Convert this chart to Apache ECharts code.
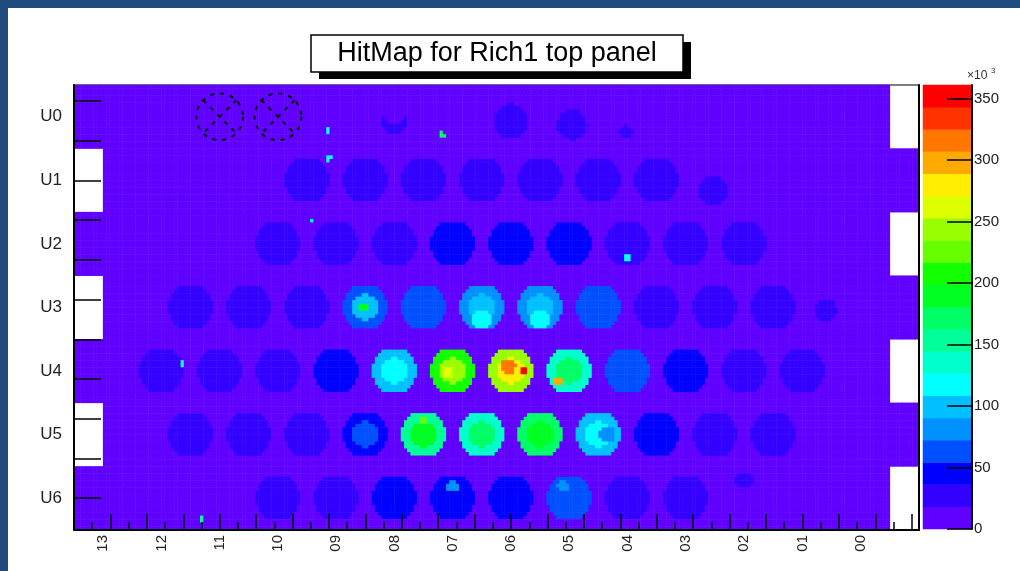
<!DOCTYPE html>
<html>
<head>
<meta charset="utf-8">
<script src="https://cdn.jsdelivr.net/npm/echarts@6/dist/echarts.min.js"></script>
<style>
  html, body { margin: 0; padding: 0; background: #ffffff; }
  #chart { width: 1020px; height: 571px; }
</style>
</head>
<body>
<div id="chart"></div>
<script>
// Row (column-of-tubes) names, top to bottom, and tube labels, left to right
const rowNames = ['U0', 'U1', 'U2', 'U3', 'U4', 'U5', 'U6'];
const colLabels = ['13', '12', '11', '10', '09', '08', '07', '06', '05', '04', '03', '02', '01', '00'];

// Mean hits per tube in units of 10^3: [rim, core]; 0 = tube without signal
const U0 = [0, 0, 0, 0, 0, 0, 0, 0, 0, 0, 0, 0, 0, 0];
const U1 = [0, 0, 0, [24, 24], [25, 25], [25, 25], [26, 26], [25, 25], [25, 25], [24, 24], 0, 0, 0, 0];
const U2 = [0, 0, 0, [24, 24], [25, 25], [30, 28], [42, 44], [40, 42], [38, 37], [30, 28], [24, 24], [24, 24], 0, 0];
const U3 = [0, [24, 24], [25, 25], [30, 28], [68, 100], [60, 66], [85, 100], [90, 100], [56, 60], [28, 26], [24, 24], [24, 24], 0, 0];
const U4 = [0, [24, 24], [25, 25], [28, 26], [44, 40], [100, 115], [205, 250], [250, 285], [140, 175], [66, 62], [44, 42], [32, 30], [24, 24], 0];
const U5 = [0, [24, 24], [25, 25], [30, 28], [50, 56], [160, 195], [140, 170], [170, 195], [105, 115], [44, 42], [24, 24], [24, 24], 0, 0];
const U6 = [0, 0, 0, [24, 24], [30, 30], [40, 42], [46, 44], [42, 40], [58, 55], [30, 28], [25, 25], 0, 0, 0];

// Local features: [row, tube, dx, dy, radius, hits] (offsets in tube pitches)
const spots = [
  [0, 5, 0.00, 0.10, 0.22, 24], [0, 5, 0.00, 0.00, 0.15, 6],
  [0, 7, 0.00, 0.08, 0.30, 25], [0, 8, 0.05, 0.14, 0.26, 25], [0, 9, -0.03, 0.27, 0.12, 24],
  [1, 10, -0.03, 0.18, 0.25, 24],
  [3, 12, -0.10, 0.05, 0.20, 23],
  [6, 11, 0.00, -0.30, 0.15, 23],
  [3, 4, -0.03, 0.00, 0.09, 185],
  [3, 6, 0.00, 0.22, 0.16, 120], [3, 7, 0.00, 0.22, 0.16, 120],
  [4, 6, -0.08, 0.05, 0.10, 270],
  [4, 7, -0.04, -0.08, 0.13, 315], [4, 7, 0.22, -0.02, 0.06, 350],
  [4, 8, -0.20, 0.18, 0.08, 290],
  [5, 5, 0.00, -0.25, 0.07, 230],
  [5, 8, 0.15, 0.00, 0.15, 80],
  [6, 6, 0.00, -0.20, 0.10, 85], [6, 8, -0.10, -0.20, 0.10, 90]
];
// Isolated hot pixels: [row, tube, dx, dy, hits]
const hotPixels = [
  [0, 6, -0.17, 0.31, 165], [0, 4, -0.15, 0.24, 120], [1, 3, 0.38, -0.37, 120],
  [2, 4, -0.41, -0.38, 110], [2, 9, 0.00, 0.24, 110], [4, 1, 0.36, -0.12, 110],
  [6, 2, -0.29, 0.36, 150]
];
// Tubes flagged as dead
const deadTubes = [[0, 2], [0, 3]];

// Colour scale (10^3 hits)
const zMax = 361;
const zTicks = [0, 50, 100, 150, 200, 250, 300, 350];
const palette = ['#6000ff', '#3300ff', '#0000ff', '#0050ff', '#0090ff', '#00c0ff', '#00ffff', '#00ffcc',
  '#00ff99', '#00ff66', '#00ff22', '#11ff00', '#66ff00', '#99ff00', '#ddff00', '#ffee00',
  '#ffaa00', '#ff7700', '#ff3300', '#ff0000'];

// Pixel-axis ticks (32 pixels per tube, rows start at 4)
const xTickStep = 20;
const yTickValues = [20, 40, 60, 80, 100, 120, 140, 160, 180, 200, 220];

// ---- geometry of the panel ----
const rows = [U0, U1, U2, U3, U4, U5, U6];
const NB = 18;                 // histogram bins per tube pitch
const NX = 14 * NB + NB / 2;   // staggered rows
const NY = rows.length * NB;
const ROW_PITCH = 1.09;        // row spacing in tube pitches
const R_TUBE = 0.39, R_CORE = 0.22;
const BG = 6;
const PIX = 32, Y0 = 4;        // pixel-axis units per tube / offset

const step = zMax / palette.length;
const pieces = palette.map((c, k) => ({ gte: k * step, lt: (k + 1) * step, color: c }));
pieces[pieces.length - 1].lte = zMax + 1;

const cells = [];
for (let iy = 0; iy < NY; iy++) {
  const r = Math.floor(iy / NB);
  const dy = (((iy % NB) + 0.5) / NB - 0.5) * ROW_PITCH;
  const shift = r % 2 ? 0.5 : 0;
  for (let ix = 0; ix < NX; ix++) {
    const xp = (ix + 0.5) / NB;
    if (xp < shift || xp > shift + 14) continue;
    const t = Math.min(13, Math.floor(xp - shift));
    const dx = xp - shift - (t + 0.5);
    let v = BG;
    const tube = rows[r][t];
    const d = Math.hypot(dx, dy);
    if (tube && d < R_TUBE) v = d < R_CORE ? tube[1] : tube[0];
    for (const s of spots) {
      if (s[0] !== r) continue;
      const cx = shift + s[1] + 0.5 + s[2];
      if (Math.hypot(xp - cx, dy - s[3]) < s[4]) v = s[5];
    }
    for (const h of hotPixels) {
      if (h[0] !== r) continue;
      const cx = shift + h[1] + 0.5 + h[2];
      if (Math.hypot(xp - cx, dy - h[3]) < 0.045) v = h[4];
    }
    cells.push([ix, NY - 1 - iy, v]);
  }
}

const xCats = Array.from({ length: NX }, (_, i) => i);
const yCats = Array.from({ length: NY }, (_, i) => i);
const xLabelValues = colLabels.map((_, i) => PIX / 2 + PIX * i);
const yLabelValues = rowNames.map((_, r) => Y0 + PIX * (rows.length - r) - PIX / 2);
const paletteData = palette.map((_, k) => [0, k, (k + 0.5) * step]);
const deadData = deadTubes.map(([r, t]) => [PIX * ((r % 2 ? 0.5 : 0) + t + 0.5), Y0 + PIX * (rows.length - r) - PIX / 2]);

const FONT = 'Liberation Sans, Arial, Helvetica, sans-serif';
const ink = '#000';

const chart = echarts.init(document.getElementById('chart'), null, { renderer: 'canvas' });
chart.setOption({
  animation: false,
  backgroundColor: '#ffffff',
  textStyle: { fontFamily: FONT },
  graphic: [
    { type: 'rect', shape: { x: 0, y: 0, width: 1020, height: 8 }, style: { fill: '#1f4a7c' } },
    { type: 'rect', shape: { x: 0, y: 0, width: 8, height: 571 }, style: { fill: '#1f4a7c' } },
    { type: 'rect', shape: { x: 319, y: 42, width: 372, height: 37 }, style: { fill: '#000' }, z: 20 },
    { type: 'rect', shape: { x: 311, y: 35, width: 372, height: 37 }, style: { fill: '#fff', stroke: '#000', lineWidth: 1.5 }, z: 21 },
    { type: 'text', x: 497, y: 54, z: 22,
      style: { text: 'HitMap for Rich1 top panel', fill: '#000', font: '27px ' + FONT, align: 'center', verticalAlign: 'middle' } },
    { type: 'text', x: 967, y: 82, z: 22,
      style: { text: '×10', fill: '#333', font: '12px ' + FONT, align: 'left', verticalAlign: 'bottom' } },
    { type: 'text', x: 991, y: 75, z: 22,
      style: { text: '3', fill: '#333', font: '8px ' + FONT, align: 'left', verticalAlign: 'bottom' } }
  ],
  grid: [
    { left: 74, top: 85, width: 845, height: 445, show: true, borderColor: '#000', borderWidth: 1, backgroundColor: 'transparent', outerBoundsMode: 'none' },
    { left: 923, top: 85, width: 49, height: 444, outerBoundsMode: 'none' }
  ],
  visualMap: {
    type: 'piecewise', show: false, seriesIndex: [0, 1], dimension: 2, pieces: pieces
  },
  xAxis: [
    { type: 'category', gridIndex: 0, data: xCats, show: false },
    { type: 'value', gridIndex: 0, min: 0, max: PIX * 14.5, interval: xTickStep, position: 'bottom', z: 10,
      axisLine: { show: true, onZero: false, lineStyle: { color: ink, width: 2 } },
      axisTick: { show: true, inside: true, length: 16, lineStyle: { color: ink, width: 1.5 } },
      minorTick: { show: true, splitNumber: 2, length: 8, lineStyle: { color: ink, width: 1.5 } },
      splitLine: { show: false },
      axisLabel: { show: true, customValues: xLabelValues, rotate: 90, margin: 5, fontSize: 15, color: '#222',
        formatter: v => colLabels[Math.round((v - PIX / 2) / PIX)] } },
    { type: 'category', gridIndex: 1, data: ['z'], show: false }
  ],
  yAxis: [
    { type: 'category', gridIndex: 0, data: yCats, show: false },
    { type: 'value', gridIndex: 0, min: Y0, max: Y0 + PIX * 7, position: 'left', z: 10,
      axisLine: { show: true, onZero: false, lineStyle: { color: ink, width: 2 } },
      axisTick: { show: true, inside: true, length: 27, customValues: yTickValues, lineStyle: { color: ink, width: 1.5 } },
      splitLine: { show: false },
      axisLabel: { show: true, customValues: yLabelValues, margin: 12, fontSize: 17, color: '#222',
        formatter: v => rowNames[Math.round((Y0 + PIX * 7 - PIX / 2 - v) / PIX)] } },
    { type: 'value', gridIndex: 0, min: 0, max: 1, position: 'right', z: 10,
      axisLine: { show: true, onZero: false, lineStyle: { color: ink, width: 2 } },
      axisTick: { show: false }, axisLabel: { show: false }, splitLine: { show: false } },
    { type: 'category', gridIndex: 1, data: palette.map((_, k) => k), show: false },
    { type: 'value', gridIndex: 1, min: 0, max: zMax, position: 'right', z: 10,
      axisLine: { show: true, onZero: false, lineStyle: { color: ink, width: 2 } },
      axisTick: { show: true, inside: true, length: 25, customValues: zTicks, lineStyle: { color: ink, width: 1.5 } },
      splitLine: { show: false },
      axisLabel: { show: true, customValues: zTicks, margin: 2, fontSize: 15, color: '#222' } }
  ],
  series: [
    { type: 'heatmap', xAxisIndex: 0, yAxisIndex: 0, data: cells, progressive: 0,
      itemStyle: { borderWidth: 0 }, emphasis: { disabled: true }, silent: true },
    { type: 'heatmap', xAxisIndex: 2, yAxisIndex: 3, data: paletteData, progressive: 0,
      itemStyle: { borderWidth: 0 }, emphasis: { disabled: true }, silent: true },
    { type: 'custom', xAxisIndex: 1, yAxisIndex: 1, data: deadData, z: 5, silent: true,
      renderItem: (params, api) => {
        const c = api.coord([api.value(0), api.value(1)]);
        const r = api.size([R_TUBE * PIX * 1.03, 0])[0];
        const k = r * Math.SQRT1_2;
        const st = { stroke: ink, fill: 'none', lineWidth: 2, lineDash: [4, 6] };
        return { type: 'group', children: [
          { type: 'circle', shape: { cx: c[0], cy: c[1], r: r }, style: st },
          { type: 'line', shape: { x1: c[0] - k, y1: c[1] - k, x2: c[0] + k, y2: c[1] + k }, style: st },
          { type: 'line', shape: { x1: c[0] + k, y1: c[1] - k, x2: c[0] - k, y2: c[1] + k }, style: st }
        ] };
      } }
  ]
});
</script>
</body>
</html>
